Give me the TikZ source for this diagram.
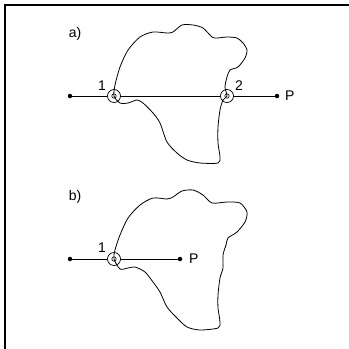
\documentclass[tikz,border=0pt]{standalone}
\usepackage{fontspec}
\setmainfont{Liberation Sans}
\begin{document}
\begin{tikzpicture}[x=1pt,y=-1pt,
  lbl/.style={inner sep=0pt,font=\fontsize{14}{16}\selectfont},
  endpt/.style={circle,fill=black,inner sep=0pt,minimum size=4.5pt},
  isect/.style={circle,draw,inner sep=0pt,minimum size=13pt,line width=0.7pt},
  blob/.style={line width=0.8pt},
  seg/.style={line width=1pt}]
\useasboundingbox (0,0) rectangle (349,349);
\fill[white] (0,0) rectangle (349,349);
\draw[line width=1.2pt] (5,349) -- (5,5) -- (349,5);
% panel a
\node[lbl] (la) at (75,34) {a)};
\draw[blob] plot[smooth cycle,tension=0.45] coordinates {(114,96) (115,85) (120,67) (128,50) (140,37) (153,32) (167,33) (173,32) (182,25) (193,25) (203,28) (212,37) (217,38) (227,37) (237,38) (243,43) (247,50) (245,58) (238,67) (230,70) (227,77) (225,87) (227,96) (223,100) (220,110) (218,127) (218,143) (220,157) (218,163) (200,163) (187,160) (177,153) (167,142) (160,123) (153,113) (143,103) (137,100) (128,103) (120,103)};
\node[endpt] (a0) at (70,96) {};
\node[endpt] (a3) at (277,96) {};
\node[isect] (a1) at (114,96) {};
\node[isect] (a2) at (227,96) {};
\draw[seg] (a0) -- (a1) -- (a2) -- (a3);
\draw[line width=0.6pt] (a1) circle (2.2pt) (a2) circle (2.2pt);
\node[lbl] (n1a) at (102,86) {1};
\node[lbl] (n2a) at (239,86) {2};
\node[lbl,anchor=west] (pa) at (285,96) {P};
% panel b
\node[lbl] (lb) at (75,197) {b)};
\draw[blob] plot[smooth cycle,tension=0.45] coordinates {(114,259) (115,250) (120,235) (128,218) (140,205) (153,198) (167,199) (173,197) (182,191) (193,190) (203,195) (212,203) (227,202) (240,203) (247,212) (245,222) (237,232) (228,238) (226,245) (223,255) (223,268) (220,278) (218,295) (218,308) (220,322) (218,328) (200,330) (187,327) (177,318) (167,307) (160,292) (153,282) (145,272) (135,267) (128,268) (120,269)};
\node[endpt] (b0) at (70,259) {};
\node[endpt] (b2) at (180,259) {};
\node[isect] (b1) at (114,259) {};
\draw[seg] (b0) -- (b1) -- (b2);
\draw[line width=0.6pt] (b1) circle (2.2pt);
\node[lbl] (n1b) at (102,248) {1};
\node[lbl,anchor=west] (pb) at (189,259) {P};
\end{tikzpicture}
\end{document}
